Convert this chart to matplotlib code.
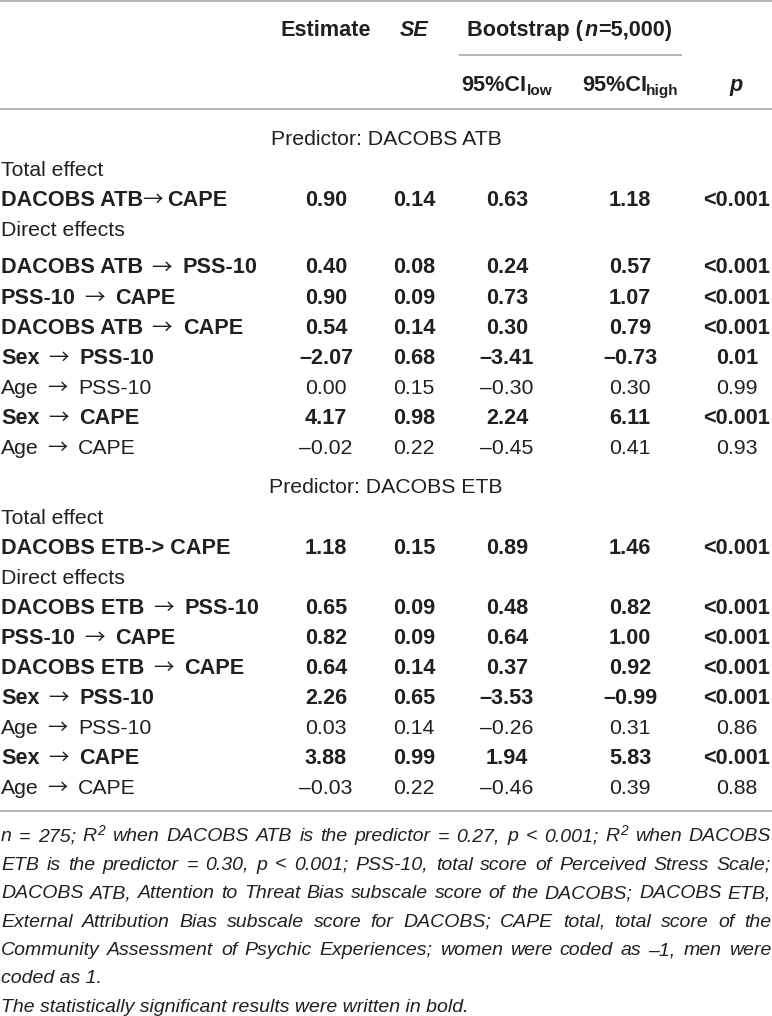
import matplotlib
matplotlib.use('Agg')
import matplotlib.pyplot as plt

# ---------------- data ----------------
atb_labels = ["DACOBS ATB→CAPE", "DACOBS ATB → PSS-10", "PSS-10 → CAPE", "DACOBS ATB → CAPE",
              "Sex → PSS-10", "Age → PSS-10", "Sex → CAPE", "Age → CAPE"]
atb_est = ["0.90", "0.40", "0.90", "0.54", "–2.07", "0.00", "4.17", "–0.02"]
atb_se = ["0.14", "0.08", "0.09", "0.14", "0.68", "0.15", "0.98", "0.22"]
atb_lo = ["0.63", "0.24", "0.73", "0.30", "–3.41", "–0.30", "2.24", "–0.45"]
atb_hi = ["1.18", "0.57", "1.07", "0.79", "–0.73", "0.30", "6.11", "0.41"]
atb_p = ["<0.001", "<0.001", "<0.001", "<0.001", "0.01", "0.99", "<0.001", "0.93"]
atb_bold = [True, True, True, True, True, False, True, False]

etb_labels = ["DACOBS ETB-> CAPE", "DACOBS ETB → PSS-10", "PSS-10 → CAPE", "DACOBS ETB → CAPE",
              "Sex → PSS-10", "Age → PSS-10", "Sex → CAPE", "Age → CAPE"]
etb_est = ["1.18", "0.65", "0.82", "0.64", "2.26", "0.03", "3.88", "–0.03"]
etb_se = ["0.15", "0.09", "0.09", "0.14", "0.65", "0.14", "0.99", "0.22"]
etb_lo = ["0.89", "0.48", "0.64", "0.37", "–3.53", "–0.26", "1.94", "–0.46"]
etb_hi = ["1.46", "0.82", "1.00", "0.92", "–0.99", "0.31", "5.83", "0.39"]
etb_p = ["<0.001", "<0.001", "<0.001", "<0.001", "<0.001", "0.86", "<0.001", "0.88"]
etb_bold = [True, True, True, True, True, False, True, False]

section_titles = ["Predictor: DACOBS ATB", "Predictor: DACOBS ETB"]
sub_titles = ["Total effect", "Direct effects"]

footnote_lines = [
    "n = 275; R^2 when DACOBS ATB is the predictor = 0.27, p < 0.001; R^2 when DACOBS",
    "ETB is the predictor = 0.30, p < 0.001; PSS-10, total score of Perceived Stress Scale;",
    "DACOBS ATB, Attention to Threat Bias subscale score of the DACOBS; DACOBS ETB,",
    "External Attribution Bias subscale score for DACOBS; CAPE total, total score of the",
    "Community Assessment of Psychic Experiences; women were coded as –1, men were",
    "coded as 1.",
    "The statistically significant results were written in bold.",
]
footnote_justified = [True, True, True, True, True, False, False]

# ---------------- layout ----------------
W, H = 772, 1016
FONT = ['Liberation Sans', 'DejaVu Sans']
ARROW_FONT = ['Noto Sans CJK SC', 'DejaVu Sans']
FS_B = 15.6
FS_R = 15.3
FS_F = 14.0
SUB = 11.0
COL = '#231f20'
LINE_COL = '#a3a3a3'

col_x = [326, 414, 507, 630, 737]

fig = plt.figure(figsize=(W / 100, H / 100), dpi=100)
ax = fig.add_axes([0, 0, 1, 1])
ax.set_xlim(0, W)
ax.set_ylim(H, 0)
ax.axis('off')
renderer = fig.canvas.get_renderer()


def half_cap(size):
    return 0.716 * size * 100 / 72 / 2


def put(x, yc, s, weight='normal', style='normal', size=FS_R, ha='left', dy=0.0,
        family=None, base_size=None):
    bs = base_size if base_size is not None else size
    return ax.text(x, yc + half_cap(bs) + dy, s, fontsize=size, fontweight=weight,
                   fontstyle=style, family=family or FONT, color=COL, ha=ha, va='baseline')


def twidth(t):
    return t.get_window_extent(renderer).width


def pieces(x, yc, parts, ha='left', gaps=None, base_size=FS_R):
    """parts: list of (text, weight, style, size, dy, family)"""
    objs, widths = [], []
    for s, w, st, sz, dy, fam in parts:
        t = put(0, yc, s, weight=w, style=st, size=sz, dy=dy, family=fam, base_size=base_size)
        objs.append(t)
        widths.append(twidth(t))
    if gaps is None:
        gaps = [1.0] * (len(parts) - 1)
    total = sum(widths) + sum(gaps)
    if ha == 'center':
        start = x - total / 2
    elif ha == 'right':
        start = x - total
    else:
        start = x
    cx = start
    for i, (t, w) in enumerate(zip(objs, widths)):
        t.set_x(cx)
        cx += w + (gaps[i] if i < len(gaps) else 0)
    return total


def label(x, yc, text, weight, size):
    if '→' not in text:
        put(x, yc, text, weight=weight, size=size)
        return
    left, right = text.split('→')
    spaced = left.endswith(' ')
    parts = [(left.strip(), weight, 'normal', size, 0, FONT),
             ('→', 'normal', 'normal', size * 0.95, 0.5, ARROW_FONT),
             (right.strip(), weight, 'normal', size, 0, FONT)]
    gaps = [8.5, 10.5] if spaced else [-0.5, 3.5]
    pieces(x, yc, parts, gaps=gaps, base_size=size)


def hline(y, x0=0, x1=W):
    ax.plot([x0, x1], [y, y], color=LINE_COL, lw=1.1, solid_capstyle='butt')


# ---------------- header ----------------
hline(1)
put(col_x[0], 28.3, "Estimate", weight='bold', size=FS_B, ha='center')
put(414.5, 28.3, "SE", weight='bold', style='italic', size=FS_B, ha='center')
pieces(570, 28.3, [("Bootstrap (", 'bold', 'normal', FS_B, 0, FONT),
                   ("n", 'bold', 'italic', FS_B, 0, FONT),
                   ("=5,000)", 'bold', 'normal', FS_B, 0, FONT)], ha='center',
       gaps=[1.0, 1.0], base_size=FS_B)
hline(55, 459, 682)
pieces(col_x[2], 83.5, [("95%CI", 'bold', 'normal', FS_B, 0, FONT),
                        ("low", 'bold', 'normal', SUB, 3.5, FONT)], ha='center',
       gaps=[0.5], base_size=FS_B)
pieces(col_x[3], 83.5, [("95%CI", 'bold', 'normal', FS_B, 0, FONT),
                        ("high", 'bold', 'normal', SUB, 3.5, FONT)], ha='center',
       gaps=[-1.5], base_size=FS_B)
put(736.5, 83.5, "p", weight='bold', style='italic', size=FS_B, ha='center')
hline(109)

# ---------------- body ----------------
sections = [
    (section_titles[0], 137.5, [168, 198, 228, 265.5, 296, 326, 356, 386, 416, 446],
     atb_labels, atb_est, atb_se, atb_lo, atb_hi, atb_p, atb_bold),
    (section_titles[1], 485, [516, 546, 576, 606, 636, 666, 696, 726, 756, 786],
     etb_labels, etb_est, etb_se, etb_lo, etb_hi, etb_p, etb_bold),
]

for title, ty, ys, labels, est, se, lo, hi, pv, bold in sections:
    put(386, ty, title, ha='center')
    put(1, ys[0], sub_titles[0])
    put(1, ys[2], sub_titles[1])
    row_y = [ys[1]] + ys[3:]
    for i, yc in enumerate(row_y):
        w = 'bold' if bold[i] else 'normal'
        sz = FS_B if bold[i] else FS_R
        label(1, yc, labels[i], w, sz)
        for cx, v in zip(col_x, [est[i], se[i], lo[i], hi[i], pv[i]]):
            put(cx, yc, v, weight=w, size=sz, ha='center')

hline(811)

# ---------------- footnote ----------------
foot_y0 = 834.5
foot_dy = 28.4


def token_parts(word):
    if '^' in word:
        base, sup = word.split('^')
        return [(base, 'normal', 'italic', FS_F, 0), (sup, 'normal', 'italic', SUB * 0.9, -6.5)]
    return [(word, 'normal', 'italic', FS_F, 0)]


for k, (line, just) in enumerate(zip(footnote_lines, footnote_justified)):
    yc = foot_y0 + k * foot_dy
    words = line.split(' ')
    if not just:
        put(1, yc, line, style='italic', size=FS_F)
        continue
    token_objs, token_w = [], []
    for wd in words:
        objs, ws = [], []
        for s, w, st, sz, dy in token_parts(wd):
            t = put(0, yc, s, weight=w, style=st, size=sz, dy=dy, base_size=FS_F)
            objs.append(t)
            ws.append(twidth(t))
        token_objs.append((objs, ws))
        token_w.append(sum(ws) + 0.5 * (len(ws) - 1))
    gap = (W - 2 - sum(token_w)) / (len(words) - 1)
    cx = 1
    for (objs, ws), tw in zip(token_objs, token_w):
        px = cx
        for t, w in zip(objs, ws):
            t.set_x(px)
            px += w + 0.5
        cx += tw + gap

fig.savefig('out.png', dpi=100, facecolor='white')
